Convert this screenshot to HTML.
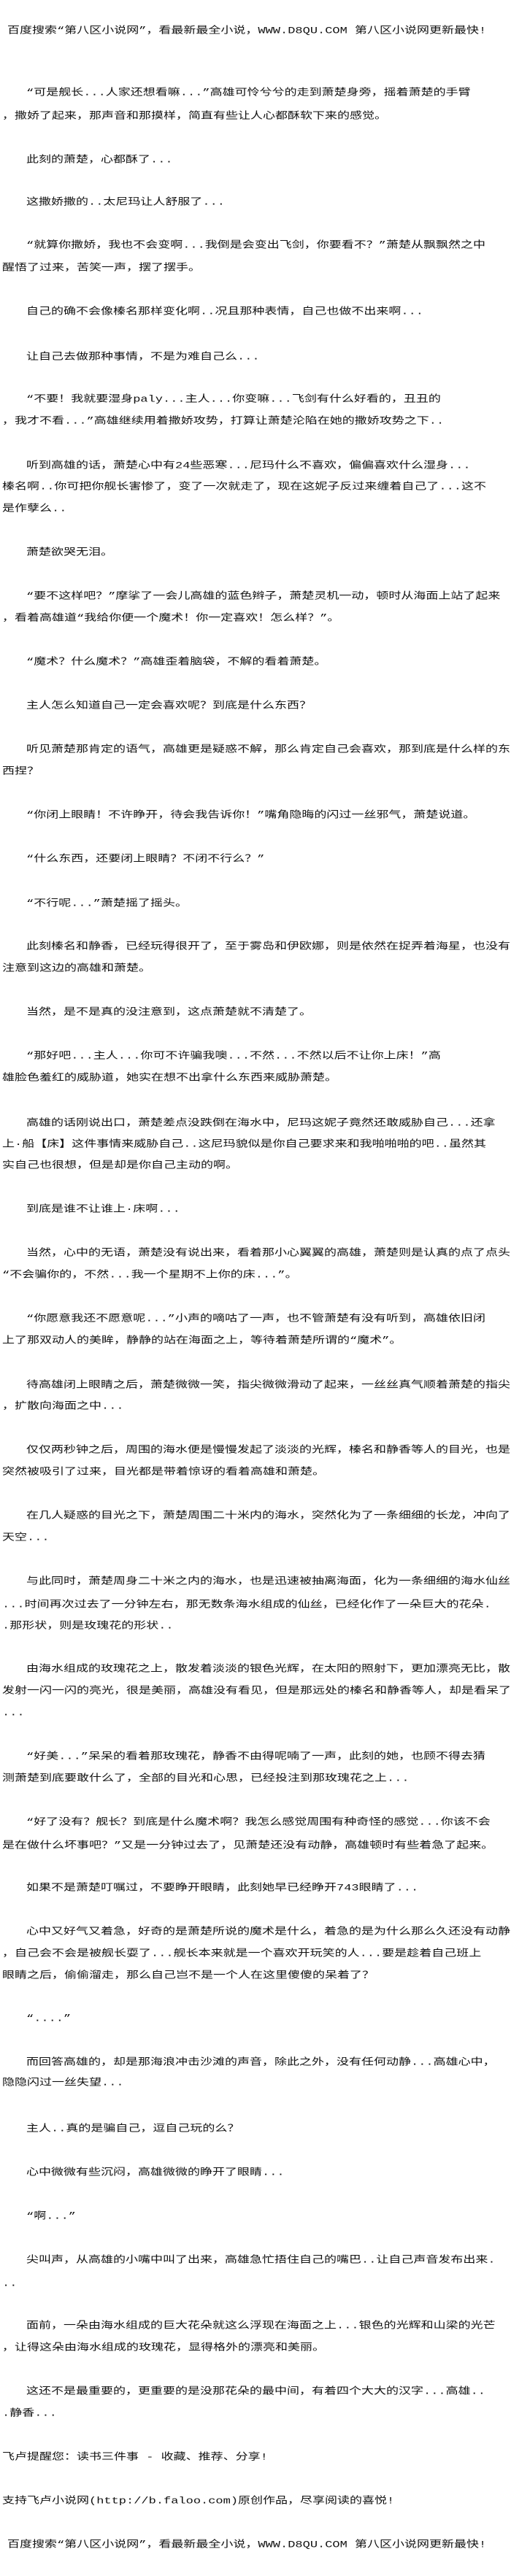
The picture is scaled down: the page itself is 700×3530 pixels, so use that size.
<!DOCTYPE html>
<html><head><meta charset="utf-8">
<style>
html,body{margin:0;padding:0;background:#fff;}
body{width:700px;height:3530px;position:relative;overflow:hidden;}
.l{position:absolute;white-space:nowrap;font-family:"Liberation Mono","Noto Sans CJK SC",monospace;font-size:17px;line-height:20px;height:20px;color:#111;transform:scaleY(0.78);transform-origin:left center;}
.i{left:36px;}
.c{left:3px;}
</style></head><body>
<div class="l" style="left:10px;top:33px">百度搜索“第八区小说网”，看最新最全小说，WWW.D8QU.COM  第八区小说网更新最快!</div>
<div class="l i" style="top:118px">“可是舰长...人家还想看嘛...”高雄可怜兮兮的走到萧楚身旁，摇着萧楚的手臂</div>
<div class="l c" style="top:150px">，撒娇了起来，那声音和那摸样，简直有些让人心都酥软下来的感觉。</div>
<div class="l i" style="top:210px">此刻的萧楚，心都酥了...</div>
<div class="l i" style="top:268px">这撒娇撒的..太尼玛让人舒服了...</div>
<div class="l i" style="top:327px">“就算你撒娇，我也不会变啊...我倒是会变出飞剑，你要看不？”萧楚从飘飘然之中</div>
<div class="l c" style="top:358px">醒悟了过来，苦笑一声，摆了摆手。</div>
<div class="l i" style="top:418px">自己的确不会像榛名那样变化啊..况且那种表情，自己也做不出来啊...</div>
<div class="l i" style="top:480px">让自己去做那种事情，不是为难自己么...</div>
<div class="l i" style="top:538px">“不要！我就要湿身paly...主人...你变嘛...飞剑有什么好看的，丑丑的</div>
<div class="l c" style="top:568px">，我才不看...”高雄继续用着撒娇攻势，打算让萧楚沦陷在她的撒娇攻势之下..</div>
<div class="l i" style="top:629px">听到高雄的话，萧楚心中有24些恶寒...尼玛什么不喜欢，偏偏喜欢什么湿身...</div>
<div class="l c" style="top:658px">榛名啊..你可把你舰长害惨了，变了一次就走了，现在这妮子反过来缠着自己了...这不</div>
<div class="l c" style="top:688px">是作孽么..</div>
<div class="l i" style="top:748px">萧楚欲哭无泪。</div>
<div class="l i" style="top:808px">“要不这样吧？”摩挲了一会儿高雄的蓝色辫子，萧楚灵机一动，顿时从海面上站了起来</div>
<div class="l c" style="top:838px">，看着高雄道“我给你便一个魔术！你一定喜欢！怎么样？”。</div>
<div class="l i" style="top:898px">“魔术？什么魔术？”高雄歪着脑袋，不解的看着萧楚。</div>
<div class="l i" style="top:958px">主人怎么知道自己一定会喜欢呢？到底是什么东西？</div>
<div class="l i" style="top:1018px">听见萧楚那肯定的语气，高雄更是疑惑不解，那么肯定自己会喜欢，那到底是什么样的东</div>
<div class="l c" style="top:1048px">西捏？</div>
<div class="l i" style="top:1108px">“你闭上眼睛！不许睁开，待会我告诉你！”嘴角隐晦的闪过一丝邪气，萧楚说道。</div>
<div class="l i" style="top:1168px">“什么东西，还要闭上眼睛？不闭不行么？”</div>
<div class="l i" style="top:1229px">“不行呢...”萧楚摇了摇头。</div>
<div class="l i" style="top:1288px">此刻榛名和静香，已经玩得很开了，至于雾岛和伊欧娜，则是依然在捉弄着海星，也没有</div>
<div class="l c" style="top:1318px">注意到这边的高雄和萧楚。</div>
<div class="l i" style="top:1378px">当然，是不是真的没注意到，这点萧楚就不清楚了。</div>
<div class="l i" style="top:1438px">“那好吧...主人...你可不许骗我噢...不然...不然以后不让你上床！”高</div>
<div class="l c" style="top:1468px">雄脸色羞红的威胁道，她实在想不出拿什么东西来威胁萧楚。</div>
<div class="l i" style="top:1530px">高雄的话刚说出口，萧楚差点没跌倒在海水中，尼玛这妮子竟然还敢威胁自己...还拿</div>
<div class="l c" style="top:1559px">上·船【床】这件事情来威胁自己..这尼玛貌似是你自己要求来和我啪啪啪的吧..虽然其</div>
<div class="l c" style="top:1588px">实自己也很想，但是却是你自己主动的啊。</div>
<div class="l i" style="top:1648px">到底是谁不让谁上·床啊...</div>
<div class="l i" style="top:1708px">当然，心中的无语，萧楚没有说出来，看着那小心翼翼的高雄，萧楚则是认真的点了点头</div>
<div class="l c" style="top:1738px">“不会骗你的，不然...我一个星期不上你的床...”。</div>
<div class="l i" style="top:1798px">“你愿意我还不愿意呢...”小声的嘀咕了一声，也不管萧楚有没有听到，高雄依旧闭</div>
<div class="l c" style="top:1828px">上了那双动人的美眸，静静的站在海面之上，等待着萧楚所谓的“魔术”。</div>
<div class="l i" style="top:1889px">待高雄闭上眼睛之后，萧楚微微一笑，指尖微微滑动了起来，一丝丝真气顺着萧楚的指尖</div>
<div class="l c" style="top:1918px">，扩散向海面之中...</div>
<div class="l i" style="top:1978px">仅仅两秒钟之后，周围的海水便是慢慢发起了淡淡的光辉，榛名和静香等人的目光，也是</div>
<div class="l c" style="top:2008px">突然被吸引了过来，目光都是带着惊讶的看着高雄和萧楚。</div>
<div class="l i" style="top:2068px">在几人疑惑的目光之下，萧楚周围二十米内的海水，突然化为了一条细细的长龙，冲向了</div>
<div class="l c" style="top:2098px">天空...</div>
<div class="l i" style="top:2158px">与此同时，萧楚周身二十米之内的海水，也是迅速被抽离海面，化为一条细细的海水仙丝</div>
<div class="l c" style="top:2190px">...时间再次过去了一分钟左右，那无数条海水组成的仙丝，已经化作了一朵巨大的花朵.</div>
<div class="l c" style="top:2219px">.那形状，则是玫瑰花的形状..</div>
<div class="l i" style="top:2278px">由海水组成的玫瑰花之上，散发着淡淡的银色光辉，在太阳的照射下，更加漂亮无比，散</div>
<div class="l c" style="top:2308px">发射一闪一闪的亮光，很是美丽，高雄没有看见，但是那远处的榛名和静香等人，却是看呆了</div>
<div class="l c" style="top:2338px">...</div>
<div class="l i" style="top:2398px">“好美...”呆呆的看着那玫瑰花，静香不由得呢喃了一声，此刻的她，也顾不得去猜</div>
<div class="l c" style="top:2428px">测萧楚到底要敢什么了，全部的目光和心思，已经投注到那玫瑰花之上...</div>
<div class="l i" style="top:2488px">“好了没有？舰长？到底是什么魔术啊？我怎么感觉周围有种奇怪的感觉...你该不会</div>
<div class="l c" style="top:2520px">是在做什么坏事吧？”又是一分钟过去了，见萧楚还没有动静，高雄顿时有些着急了起来。</div>
<div class="l i" style="top:2578px">如果不是萧楚叮嘱过，不要睁开眼睛，此刻她早已经睁开743眼睛了...</div>
<div class="l i" style="top:2638px">心中又好气又着急，好奇的是萧楚所说的魔术是什么，着急的是为什么那么久还没有动静</div>
<div class="l c" style="top:2668px">，自己会不会是被舰长耍了...舰长本来就是一个喜欢开玩笑的人...要是趁着自己班上</div>
<div class="l c" style="top:2698px">眼睛之后，偷偷溜走，那么自己岂不是一个人在这里傻傻的呆着了？</div>
<div class="l i" style="top:2757px">“....”</div>
<div class="l i" style="top:2817px">而回答高雄的，却是那海浪冲击沙滩的声音，除此之外，没有任何动静...高雄心中，</div>
<div class="l c" style="top:2845px">隐隐闪过一丝失望...</div>
<div class="l i" style="top:2908px">主人..真的是骗自己，逗自己玩的么？</div>
<div class="l i" style="top:2968px">心中微微有些沉闷，高雄微微的睁开了眼睛...</div>
<div class="l i" style="top:3028px">“啊...”</div>
<div class="l i" style="top:3088px">尖叫声，从高雄的小嘴中叫了出来，高雄急忙捂住自己的嘴巴..让自己声音发布出来.</div>
<div class="l c" style="top:3120px">..</div>
<div class="l i" style="top:3178px">面前，一朵由海水组成的巨大花朵就这么浮现在海面之上...银色的光辉和山梁的光芒</div>
<div class="l c" style="top:3208px">，让得这朵由海水组成的玫瑰花，显得格外的漂亮和美丽。</div>
<div class="l i" style="top:3268px">这还不是最重要的，更重要的是没那花朵的最中间，有着四个大大的汉字...高雄..</div>
<div class="l c" style="top:3298px">.静香...</div>
<div class="l c" style="top:3358px">飞卢提醒您：读书三件事 - 收藏、推荐、分享!</div>
<div class="l c" style="top:3418px">支持飞卢小说网(http://b.faloo.com)原创作品，尽享阅读的喜悦!</div>
<div class="l" style="left:10px;top:3478px">百度搜索“第八区小说网”，看最新最全小说，WWW.D8QU.COM  第八区小说网更新最快!</div>
</body></html>
